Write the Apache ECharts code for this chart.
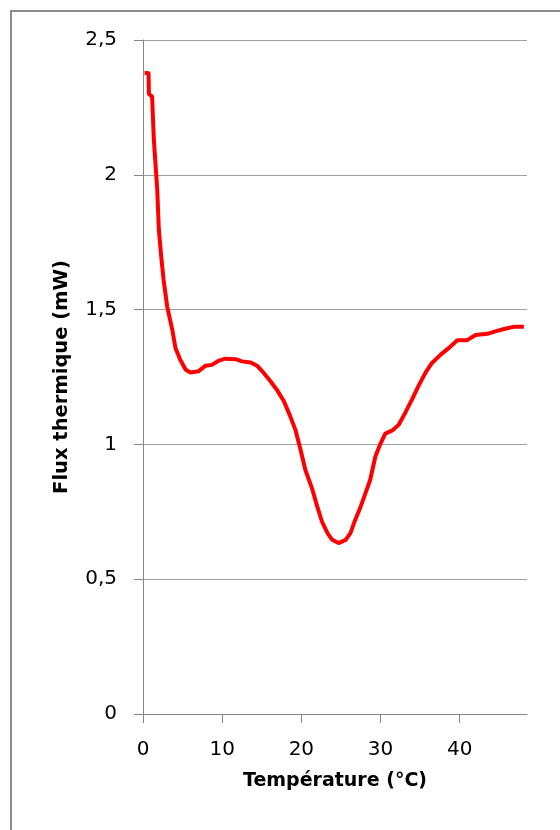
<!DOCTYPE html>
<html>
<head>
<meta charset="utf-8">
<script src="https://cdn.jsdelivr.net/npm/echarts@6/dist/echarts.min.js"></script>
<style>
html,body{margin:0;padding:0;background:#fff;}
#c{width:560px;height:830px;}
</style>
</head>
<body>
<div id="c"></div>
<script>
const temperature = [0.2, 0.7, 0.75, 1.15, 1.37, 1.8, 2.0, 2.3, 2.6, 3.05, 3.7, 4.1, 4.7, 5.4, 6.0, 7.0, 7.9, 8.7, 9.6, 10.4, 11.7, 12.5, 13.6, 14.4, 15.25, 16.1, 16.9, 17.8, 18.6, 19.25, 19.9, 20.5, 21.4, 22.0, 22.6, 23.3, 23.9, 24.7, 25.6, 26.2, 26.8, 27.5, 28.1, 28.7, 29.35, 30.0, 30.6, 31.5, 32.3, 33.1, 34.0, 34.8, 35.7, 36.5, 37.6, 38.6, 39.7, 40.9, 42.0, 43.5, 44.5, 45.6, 46.8, 48.1];
const flux = [2.378, 2.378, 2.30, 2.29, 2.13, 1.945, 1.797, 1.697, 1.611, 1.512, 1.425, 1.358, 1.314, 1.277, 1.267, 1.271, 1.292, 1.295, 1.311, 1.318, 1.316, 1.308, 1.304, 1.292, 1.265, 1.234, 1.203, 1.16, 1.104, 1.054, 0.98, 0.906, 0.832, 0.77, 0.714, 0.671, 0.646, 0.634, 0.646, 0.671, 0.72, 0.77, 0.819, 0.869, 0.955, 1.003, 1.04, 1.052, 1.073, 1.116, 1.168, 1.217, 1.267, 1.302, 1.333, 1.357, 1.386, 1.386, 1.406, 1.41, 1.419, 1.428, 1.436, 1.436];
const xTicks = [0, 10, 20, 30, 40];
const yTicks = [0, 0.5, 1, 1.5, 2, 2.5];
const xTitle = 'Température (°C)';
const yTitle = 'Flux thermique (mW)';

const FONT = 'DejaVu Sans';
const chart = echarts.init(document.getElementById('c'), null, {renderer: 'canvas'});
const data = temperature.map((t, i) => [t, flux[i]]);
chart.setOption({
  animation: false,
  backgroundColor: '#ffffff',
  grid: {left: 143, right: 33, top: 40, bottom: 116},
  graphic: [{
    type: 'rect', silent: true,
    shape: {x: 11, y: 11, width: 620, height: 900},
    style: {fill: 'none', stroke: '#8c8c8c', lineWidth: 2}
  }],
  xAxis: {
    type: 'value', min: 0, max: 48.5,
    name: xTitle, nameLocation: 'middle', nameGap: 58,
    nameTextStyle: {fontFamily: FONT, fontWeight: 'bold', fontSize: 19, color: '#000'},
    axisLine: {show: true, onZero: false, lineStyle: {color: '#868686', width: 1}},
    axisTick: {show: true, length: 9, customValues: xTicks, lineStyle: {color: '#868686'}},
    axisLabel: {customValues: xTicks, margin: 26, fontFamily: FONT, fontSize: 20, color: '#000'},
    splitLine: {show: false}
  },
  yAxis: {
    type: 'value', min: 0, max: 2.5, interval: 0.5,
    name: yTitle, nameLocation: 'middle', nameGap: 71, nameRotate: 90,
    nameTextStyle: {fontFamily: FONT, fontWeight: 'bold', fontSize: 19.5, color: '#000'},
    axisLine: {show: true, lineStyle: {color: '#868686', width: 1}},
    axisTick: {show: true, length: 9, lineStyle: {color: '#868686'}},
    axisLabel: {margin: 26, fontFamily: FONT, fontSize: 20, color: '#000', padding: [4, 0, 0, 0],
      formatter: v => String(v).replace('.', ',')},
    splitLine: {show: true, lineStyle: {color: '#a0a0a0', width: 1}}
  },
  series: [{
    type: 'line', data: data, showSymbol: false, smooth: false,
    lineStyle: {color: '#ff0000', width: 4}, itemStyle: {color: '#ff0000'}
  }]
});
</script>
</body>
</html>
